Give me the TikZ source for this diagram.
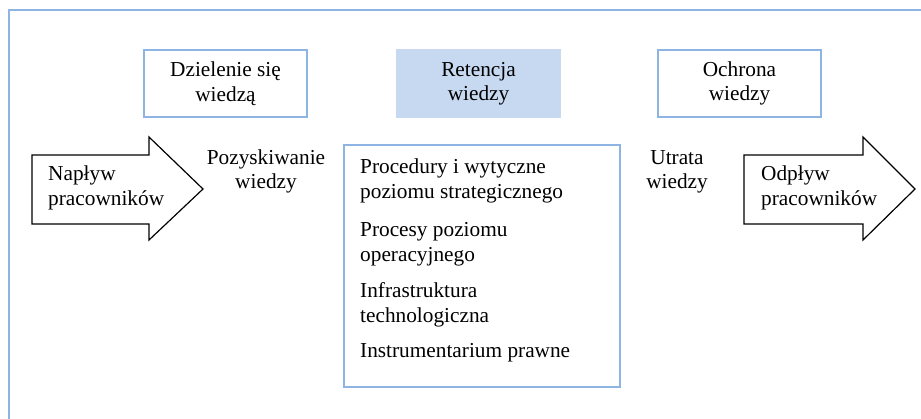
\documentclass[tikz,border=0pt]{standalone}
\usepackage{fontspec}
\setmainfont{Liberation Serif}
\definecolor{frameblue}{RGB}{141,180,226}
\definecolor{fillblue}{RGB}{198,217,241}
\begin{document}
\begin{tikzpicture}[x=1pt,y=-1pt,
  txt/.style={inner sep=0pt, font=\fontsize{21.3}{24.5}\selectfont},
  bluebox/.style={txt, draw=frameblue, line width=2pt, align=center},
  fillbox/.style={txt, fill=fillblue, align=center},
  arrowline/.style={draw=black, line width=1.2pt, fill=white, line join=miter},
  item/.style={txt, anchor=base west, align=left}]
\clip (0,0) rectangle (921,418);
% outer frame
\draw[frameblue, line width=2pt] (9,440) -- (9,10) -- (940,10);
% top boxes
\node[bluebox, minimum width=163pt, minimum height=67pt] (share) at (225.5,83.5) {Dzielenie się\\wiedzą};
\node[fillbox, minimum width=165pt, minimum height=69pt] (ret) at (478.5,83.5) {Retencja\\wiedzy};
\node[bluebox, minimum width=163pt, minimum height=67pt] (prot) at (739.5,83.5) {Ochrona\\wiedzy};
% big box
\node[draw=frameblue, line width=2pt, minimum width=276pt, minimum height=242pt, inner sep=0pt] (big) at (482,266) {};
\node[item] (i1) at (360,198) {Procedury i wytyczne\\poziomu strategicznego};
\node[item] (i2) at (360,261) {Procesy poziomu\\operacyjnego};
\node[item] (i3) at (360,322) {Infrastruktura\\technologiczna};
\node[item] (i4) at (360,357) {Instrumentarium prawne};
% arrows
\draw[arrowline] (32,155) -- (149,155) -- (149,137) -- (203,189) -- (149,240) -- (149,224) -- (32,224) -- cycle;
\draw[arrowline] (744,155) -- (863,155) -- (863,137) -- (915,189) -- (863,240) -- (863,224) -- (744,224) -- cycle;
\node[item] (in) at (48,205) {Napływ\\pracowników};
\node[item] (out) at (761,205) {Odpływ\\pracowników};
% side labels
\node[txt, anchor=base, align=center] (acq) at (266,188.5) {Pozyskiwanie\\wiedzy};
\node[txt, anchor=base, align=center] (loss) at (677,188.5) {Utrata\\wiedzy};
\end{tikzpicture}
\end{document}
